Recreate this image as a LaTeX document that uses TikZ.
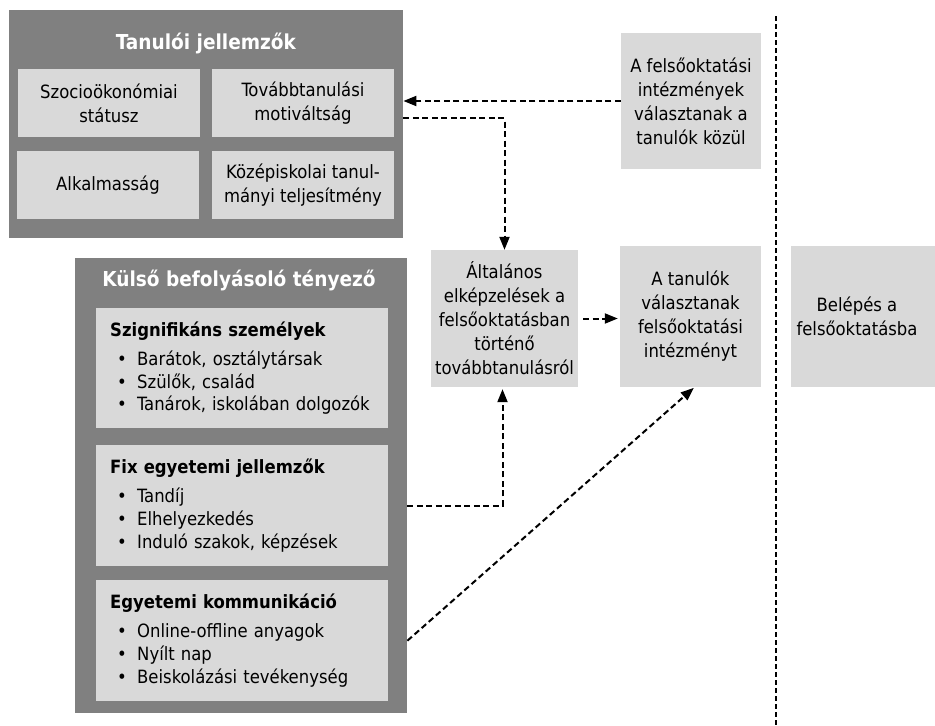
\documentclass[tikz,border=0pt]{standalone}
\usepackage{fontspec}
\setmainfont{DejaVu Sans Condensed}
\usetikzlibrary{arrows.meta}
\definecolor{darkgr}{RGB}{128,128,128}
\definecolor{litegr}{RGB}{217,217,217}
\newcommand{\itm}[1]{\hspace*{7pt}\makebox[20pt][l]{\textbullet}#1}

\begin{document}
\begin{tikzpicture}[x=1pt,y=-1pt]
\tikzstyle{every node}=[inner sep=0pt, font=\fontsize{18.3}{24}\selectfont]
\tikzstyle{darkbox}=[fill=darkgr, anchor=north west]
\tikzstyle{litebox}=[fill=litegr, align=center]
\tikzstyle{listbox}=[fill=litegr, anchor=north west, align=left, text width=264pt, inner xsep=14pt, minimum height=120pt, font=\fontsize{18.3}{22.8}\selectfont]
\tikzstyle{boxtitle}=[text=white, font=\fontsize{20.6}{24}\selectfont\bfseries]
\tikzstyle{conn}=[line width=2pt, dash pattern=on 6pt off 3.5pt, -{Triangle[length=13pt,width=10pt]}]
\useasboundingbox (0,0) rectangle (935,726);
% tanuloi jellemzok
\draw (9,10) node (tanuloi) [darkbox, minimum width=394pt, minimum height=228pt] {};
\draw (206,43) node (tanuloititle) [boxtitle] {Tanulói jellemzők};
\draw (109,103) node (szocio) [litebox, minimum width=182pt, minimum height=68pt] {Szocioökonómiai\\státusz};
\draw (303,103) node (motiv) [litebox, minimum width=182pt, minimum height=68pt] {Továbbtanulási\\motiváltság};
\draw (108,185) node (alkalm) [litebox, minimum width=182pt, minimum height=68pt] {Alkalmasság};
\draw (303,185) node (kozep) [litebox, minimum width=182pt, minimum height=68pt] {Középiskolai tanul-\\mányi teljesítmény};
% kulso tenyezok
\draw (75,258) node (kulso) [darkbox, minimum width=332pt, minimum height=455pt] {};
\draw (239,280) node (kulsotitle) [boxtitle] {Külső befolyásoló tényező};
\draw (96,308) node (szign) [listbox] {\textbf{Szignifikáns személyek}\\[6pt]
  \itm{Barátok, osztálytársak}\\\itm{Szülők, család}\\\itm{Tanárok, iskolában dolgozók}};
\draw (96,445) node (fixegy) [listbox, minimum height=121pt] {\textbf{Fix egyetemi jellemzők}\\[6pt]
  \itm{Tandíj}\\\itm{Elhelyezkedés}\\\itm{Induló szakok, képzések}};
\draw (96,580) node (kommun) [listbox, minimum height=121pt] {\textbf{Egyetemi kommunikáció}\\[6pt]
  \itm{Online-offline anyagok}\\\itm{Nyílt nap}\\\itm{Beiskolázási tevékenység}};
% folyamat
\draw (691,101) node (felvesz) [litebox, minimum width=140pt, minimum height=136pt] {A felsőoktatási\\intézmények\\választanak a\\tanulók közül};
\draw (504.5,318.5) node (altalanos) [litebox, minimum width=147pt, minimum height=137pt] {Általános\\elképzelések a\\felsőoktatásban\\történő\\továbbtanulásról};
\draw (690.5,316.5) node (valaszt) [litebox, minimum width=141pt, minimum height=141pt] {A tanulók\\választanak\\felsőoktatási\\intézményt};
\draw (863,316.5) node (belepes) [litebox, minimum width=144pt, minimum height=141pt] {};
\draw (857,316.5) node (belepestext) [align=center] {Belépés a\\felsőoktatásba};
\coordinate (septop) at (776,16);
\coordinate (sepbot) at (776,726);
\draw [line width=1.8pt, dash pattern=on 5pt off 3pt] (septop) -- (sepbot);
\draw [conn] (felvesz.west) -- (felvesz.west -| tanuloi.east);
\draw [conn] ([yshift=6pt]tanuloi.east) -| (altalanos.north);
\draw [conn, shorten <=5pt, shorten >=2pt] (altalanos.east) -- (altalanos.east -| valaszt.west);
\draw [conn, shorten >=2pt] (fixegy.east -| kulso.east) -| ([xshift=-2pt]altalanos.south);
\draw [conn, shorten >=1pt] (kommun.east -| kulso.east) -- ([xshift=4pt]valaszt.south);
\end{tikzpicture}
\end{document}
